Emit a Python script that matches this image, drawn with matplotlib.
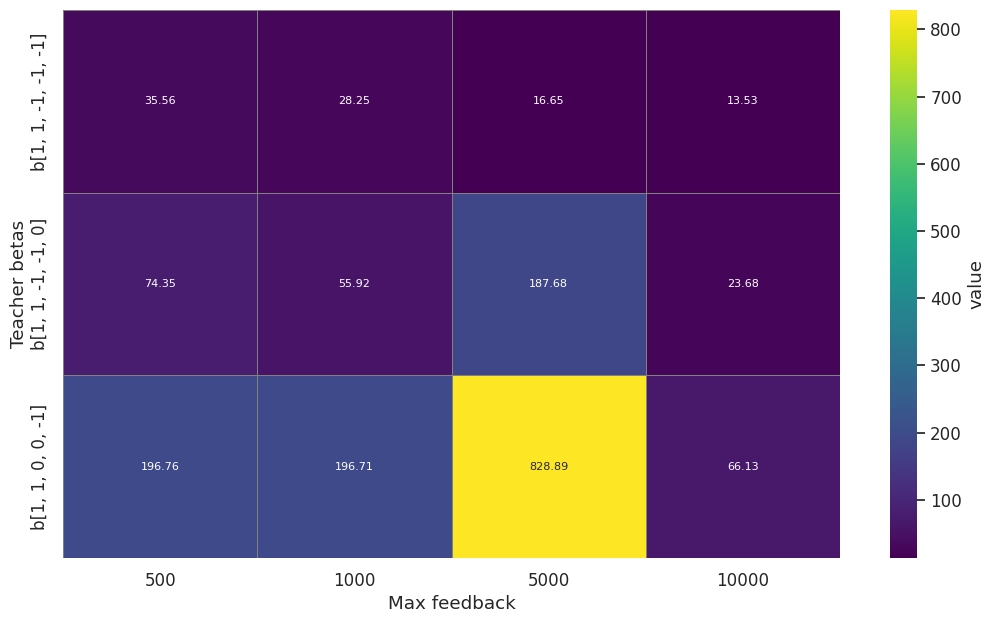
import numpy as np
import pandas as pd
import seaborn as sns
from matplotlib import pyplot as plt

teacher_betas = ["b[1, 1, -1, -1, -1]", "b[1, 1, -1, -1, 0]", "b[1, 1, 0, 0, -1]"]
max_feedback = ["500", "1000", "5000", "10000"]
values = [
    [35.56, 28.25, 16.65, 13.53],
    [74.35, 55.92, 187.68, 23.68],
    [196.76, 196.71, 828.89, 66.13],
]


def main():
    sns.set_theme(style="ticks", font_scale=1.1)
    df = pd.DataFrame(np.array(values), index=teacher_betas, columns=max_feedback)

    fig = plt.figure(figsize=(9.96, 6.22), dpi=100)
    ax = fig.add_axes([0.0633, 0.1029, 0.7801, 0.881])
    cax = fig.add_axes([0.8936, 0.1029, 0.0271, 0.881])
    sns.heatmap(df, ax=ax, cbar_ax=cax, cmap="viridis", annot=True, fmt=".2f",
                annot_kws={"size": 8}, linewidths=0.7, linecolor="gray",
                cbar_kws={"label": "value"})
    ax.set_xlabel("Max feedback")
    ax.set_ylabel("Teacher betas", labelpad=2)
    ax.tick_params(length=0, pad=10)
    fig.savefig("out.png", dpi=100)


if __name__ == "__main__":
    main()
